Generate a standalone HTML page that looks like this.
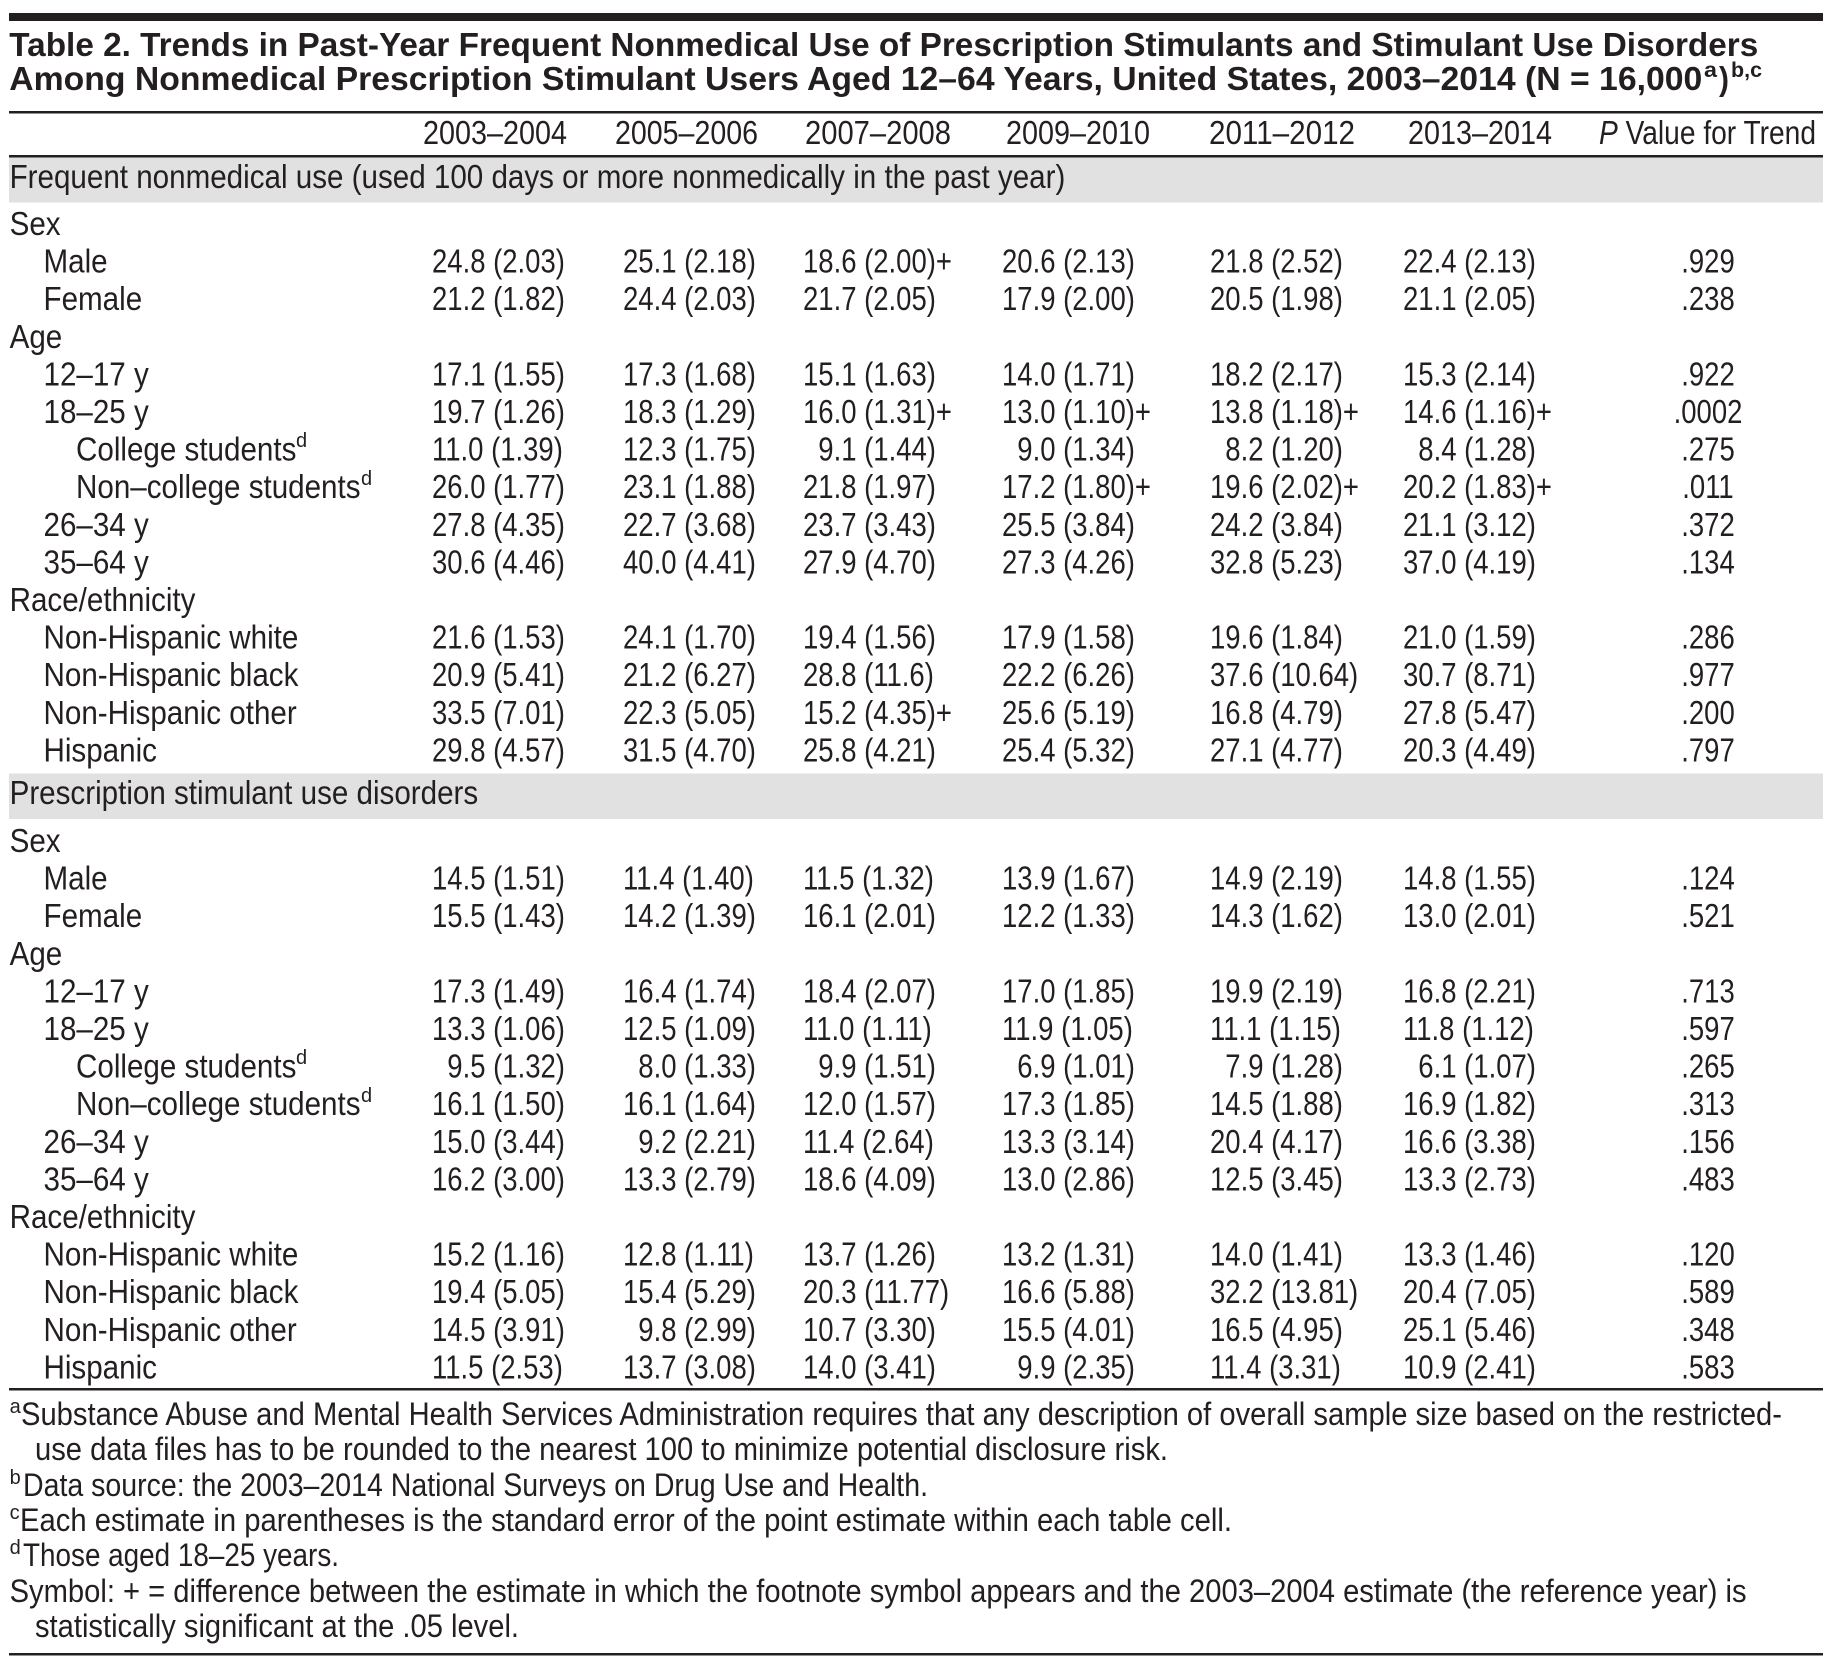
<!DOCTYPE html>
<html>
<head>
<meta charset="utf-8">
<style>
html,body{margin:0;padding:0;background:#fff;}
svg{display:block;}
text{font-family:"Liberation Sans",Arial,sans-serif;font-size:33px;fill:#231f20;}
.t{font-weight:bold;font-size:33px;}
.sup{font-size:20px;}
.tsup{font-size:21px;font-weight:bold;}
.fn{font-size:32px;}
</style>
</head>
<body>
<svg width="1842" height="1672" viewBox="0 0 1842 1672" xmlns="http://www.w3.org/2000/svg">
<rect x="0" y="0" width="1842" height="1672" fill="#fff"/>
<rect x="9" y="13" width="1814" height="8" fill="#231f20"/>
<text class="t" x="9.3" y="56" textLength="1749" lengthAdjust="spacingAndGlyphs">Table 2. Trends in Past-Year Frequent Nonmedical Use of Prescription Stimulants and Stimulant Use Disorders</text>
<text class="t" x="9.3" y="90" textLength="1693" lengthAdjust="spacingAndGlyphs">Among Nonmedical Prescription Stimulant Users Aged 12–64 Years, United States, 2003–2014 (N = 16,000</text>
<text class="tsup" x="1704" y="77" textLength="13" lengthAdjust="spacingAndGlyphs">a</text>
<text class="t" x="1719" y="90" textLength="10" lengthAdjust="spacingAndGlyphs">)</text>
<text class="tsup" x="1731" y="77" textLength="31" lengthAdjust="spacingAndGlyphs">b,c</text>
<rect x="9" y="111" width="1814" height="2.5" fill="#231f20"/>
<text x="423" y="144" textLength="144" lengthAdjust="spacingAndGlyphs">2003–2004</text>
<text x="615" y="144" textLength="143" lengthAdjust="spacingAndGlyphs">2005–2006</text>
<text x="805" y="144" textLength="146" lengthAdjust="spacingAndGlyphs">2007–2008</text>
<text x="1006" y="144" textLength="144" lengthAdjust="spacingAndGlyphs">2009–2010</text>
<text x="1209" y="144" textLength="146" lengthAdjust="spacingAndGlyphs">2011–2012</text>
<text x="1408" y="144" textLength="144" lengthAdjust="spacingAndGlyphs">2013–2014</text>
<text x="1599" y="144" textLength="217" lengthAdjust="spacingAndGlyphs"><tspan font-style="italic">P</tspan> Value for Trend</text>
<rect x="9" y="155" width="1814" height="2.5" fill="#231f20"/>
<rect x="9" y="157.5" width="1814" height="45" fill="#e1e1e1"/>
<text transform="translate(9.6,188) scale(.897,1)">Frequent nonmedical use (used 100 days or more nonmedically in the past year)</text>

<text transform="translate(9.6,235) scale(.897,1)">Sex</text>
<text transform="translate(43.5,272.6) scale(.897,1)">Male</text>
<text transform="translate(43.5,310.2) scale(.897,1)">Female</text>
<text transform="translate(9.6,347.8) scale(.897,1)">Age</text>
<text transform="translate(43.5,385.4) scale(.897,1)">12–17 y</text>
<text transform="translate(43.5,423) scale(.897,1)">18–25 y</text>
<text transform="translate(76,460.6) scale(.897,1)">College students</text>
<text class="sup" x="296" y="447">d</text>
<text transform="translate(76,498.2) scale(.897,1)">Non–college students</text>
<text class="sup" x="361" y="485">d</text>
<text transform="translate(43.5,535.8) scale(.897,1)">26–34 y</text>
<text transform="translate(43.5,573.4) scale(.897,1)">35–64 y</text>
<text transform="translate(9.6,611) scale(.897,1)">Race/ethnicity</text>
<text transform="translate(43.5,648.6) scale(.897,1)">Non-Hispanic white</text>
<text transform="translate(43.5,686.2) scale(.897,1)">Non-Hispanic black</text>
<text transform="translate(43.5,723.8) scale(.897,1)">Non-Hispanic other</text>
<text transform="translate(43.5,761.4) scale(.897,1)">Hispanic</text>

<g transform="translate(0,272.6)">
<text transform="translate(432,0) scale(.833,1)">24.8 (2.03)</text>
<text transform="translate(623,0) scale(.833,1)">25.1 (2.18)</text>
<text transform="translate(803,0) scale(.833,1)">18.6 (2.00)+</text>
<text transform="translate(1002,0) scale(.833,1)">20.6 (2.13)</text>
<text transform="translate(1210,0) scale(.833,1)">21.8 (2.52)</text>
<text transform="translate(1403,0) scale(.833,1)">22.4 (2.13)</text>
<text text-anchor="middle" transform="translate(1708,0) scale(.833,1)">.929</text>
</g>
<g transform="translate(0,310.2)">
<text transform="translate(432,0) scale(.833,1)">21.2 (1.82)</text>
<text transform="translate(623,0) scale(.833,1)">24.4 (2.03)</text>
<text transform="translate(803,0) scale(.833,1)">21.7 (2.05)</text>
<text transform="translate(1002,0) scale(.833,1)">17.9 (2.00)</text>
<text transform="translate(1210,0) scale(.833,1)">20.5 (1.98)</text>
<text transform="translate(1403,0) scale(.833,1)">21.1 (2.05)</text>
<text text-anchor="middle" transform="translate(1708,0) scale(.833,1)">.238</text>
</g>
<g transform="translate(0,385.4)">
<text transform="translate(432,0) scale(.833,1)">17.1 (1.55)</text>
<text transform="translate(623,0) scale(.833,1)">17.3 (1.68)</text>
<text transform="translate(803,0) scale(.833,1)">15.1 (1.63)</text>
<text transform="translate(1002,0) scale(.833,1)">14.0 (1.71)</text>
<text transform="translate(1210,0) scale(.833,1)">18.2 (2.17)</text>
<text transform="translate(1403,0) scale(.833,1)">15.3 (2.14)</text>
<text text-anchor="middle" transform="translate(1708,0) scale(.833,1)">.922</text>
</g>
<g transform="translate(0,423)">
<text transform="translate(432,0) scale(.833,1)">19.7 (1.26)</text>
<text transform="translate(623,0) scale(.833,1)">18.3 (1.29)</text>
<text transform="translate(803,0) scale(.833,1)">16.0 (1.31)+</text>
<text transform="translate(1002,0) scale(.833,1)">13.0 (1.10)+</text>
<text transform="translate(1210,0) scale(.833,1)">13.8 (1.18)+</text>
<text transform="translate(1403,0) scale(.833,1)">14.6 (1.16)+</text>
<text text-anchor="middle" transform="translate(1708,0) scale(.833,1)">.0002</text>
</g>
<g transform="translate(0,460.6)">
<text transform="translate(432,0) scale(.833,1)">11.0 (1.39)</text>
<text transform="translate(623,0) scale(.833,1)">12.3 (1.75)</text>
<text transform="translate(818.3,0) scale(.833,1)">9.1 (1.44)</text>
<text transform="translate(1017.3,0) scale(.833,1)">9.0 (1.34)</text>
<text transform="translate(1225.3,0) scale(.833,1)">8.2 (1.20)</text>
<text transform="translate(1418.3,0) scale(.833,1)">8.4 (1.28)</text>
<text text-anchor="middle" transform="translate(1708,0) scale(.833,1)">.275</text>
</g>
<g transform="translate(0,498.2)">
<text transform="translate(432,0) scale(.833,1)">26.0 (1.77)</text>
<text transform="translate(623,0) scale(.833,1)">23.1 (1.88)</text>
<text transform="translate(803,0) scale(.833,1)">21.8 (1.97)</text>
<text transform="translate(1002,0) scale(.833,1)">17.2 (1.80)+</text>
<text transform="translate(1210,0) scale(.833,1)">19.6 (2.02)+</text>
<text transform="translate(1403,0) scale(.833,1)">20.2 (1.83)+</text>
<text text-anchor="middle" transform="translate(1708,0) scale(.833,1)">.011</text>
</g>
<g transform="translate(0,535.8)">
<text transform="translate(432,0) scale(.833,1)">27.8 (4.35)</text>
<text transform="translate(623,0) scale(.833,1)">22.7 (3.68)</text>
<text transform="translate(803,0) scale(.833,1)">23.7 (3.43)</text>
<text transform="translate(1002,0) scale(.833,1)">25.5 (3.84)</text>
<text transform="translate(1210,0) scale(.833,1)">24.2 (3.84)</text>
<text transform="translate(1403,0) scale(.833,1)">21.1 (3.12)</text>
<text text-anchor="middle" transform="translate(1708,0) scale(.833,1)">.372</text>
</g>
<g transform="translate(0,573.4)">
<text transform="translate(432,0) scale(.833,1)">30.6 (4.46)</text>
<text transform="translate(623,0) scale(.833,1)">40.0 (4.41)</text>
<text transform="translate(803,0) scale(.833,1)">27.9 (4.70)</text>
<text transform="translate(1002,0) scale(.833,1)">27.3 (4.26)</text>
<text transform="translate(1210,0) scale(.833,1)">32.8 (5.23)</text>
<text transform="translate(1403,0) scale(.833,1)">37.0 (4.19)</text>
<text text-anchor="middle" transform="translate(1708,0) scale(.833,1)">.134</text>
</g>
<g transform="translate(0,648.6)">
<text transform="translate(432,0) scale(.833,1)">21.6 (1.53)</text>
<text transform="translate(623,0) scale(.833,1)">24.1 (1.70)</text>
<text transform="translate(803,0) scale(.833,1)">19.4 (1.56)</text>
<text transform="translate(1002,0) scale(.833,1)">17.9 (1.58)</text>
<text transform="translate(1210,0) scale(.833,1)">19.6 (1.84)</text>
<text transform="translate(1403,0) scale(.833,1)">21.0 (1.59)</text>
<text text-anchor="middle" transform="translate(1708,0) scale(.833,1)">.286</text>
</g>
<g transform="translate(0,686.2)">
<text transform="translate(432,0) scale(.833,1)">20.9 (5.41)</text>
<text transform="translate(623,0) scale(.833,1)">21.2 (6.27)</text>
<text transform="translate(803,0) scale(.833,1)">28.8 (11.6)</text>
<text transform="translate(1002,0) scale(.833,1)">22.2 (6.26)</text>
<text transform="translate(1210,0) scale(.833,1)">37.6 (10.64)</text>
<text transform="translate(1403,0) scale(.833,1)">30.7 (8.71)</text>
<text text-anchor="middle" transform="translate(1708,0) scale(.833,1)">.977</text>
</g>
<g transform="translate(0,723.8)">
<text transform="translate(432,0) scale(.833,1)">33.5 (7.01)</text>
<text transform="translate(623,0) scale(.833,1)">22.3 (5.05)</text>
<text transform="translate(803,0) scale(.833,1)">15.2 (4.35)+</text>
<text transform="translate(1002,0) scale(.833,1)">25.6 (5.19)</text>
<text transform="translate(1210,0) scale(.833,1)">16.8 (4.79)</text>
<text transform="translate(1403,0) scale(.833,1)">27.8 (5.47)</text>
<text text-anchor="middle" transform="translate(1708,0) scale(.833,1)">.200</text>
</g>
<g transform="translate(0,761.4)">
<text transform="translate(432,0) scale(.833,1)">29.8 (4.57)</text>
<text transform="translate(623,0) scale(.833,1)">31.5 (4.70)</text>
<text transform="translate(803,0) scale(.833,1)">25.8 (4.21)</text>
<text transform="translate(1002,0) scale(.833,1)">25.4 (5.32)</text>
<text transform="translate(1210,0) scale(.833,1)">27.1 (4.77)</text>
<text transform="translate(1403,0) scale(.833,1)">20.3 (4.49)</text>
<text text-anchor="middle" transform="translate(1708,0) scale(.833,1)">.797</text>
</g>

<rect x="9" y="773.5" width="1814" height="45.5" fill="#e1e1e1"/>
<text transform="translate(9.6,804) scale(.897,1)">Prescription stimulant use disorders</text>

<text transform="translate(9.6,852) scale(.897,1)">Sex</text>
<text transform="translate(43.5,889.6) scale(.897,1)">Male</text>
<text transform="translate(43.5,927.2) scale(.897,1)">Female</text>
<text transform="translate(9.6,964.8) scale(.897,1)">Age</text>
<text transform="translate(43.5,1002.4) scale(.897,1)">12–17 y</text>
<text transform="translate(43.5,1040) scale(.897,1)">18–25 y</text>
<text transform="translate(76,1077.6) scale(.897,1)">College students</text>
<text class="sup" x="296" y="1064">d</text>
<text transform="translate(76,1115.2) scale(.897,1)">Non–college students</text>
<text class="sup" x="361" y="1102">d</text>
<text transform="translate(43.5,1152.8) scale(.897,1)">26–34 y</text>
<text transform="translate(43.5,1190.4) scale(.897,1)">35–64 y</text>
<text transform="translate(9.6,1228) scale(.897,1)">Race/ethnicity</text>
<text transform="translate(43.5,1265.6) scale(.897,1)">Non-Hispanic white</text>
<text transform="translate(43.5,1303.2) scale(.897,1)">Non-Hispanic black</text>
<text transform="translate(43.5,1340.8) scale(.897,1)">Non-Hispanic other</text>
<text transform="translate(43.5,1378.4) scale(.897,1)">Hispanic</text>

<g transform="translate(0,889.6)">
<text transform="translate(432,0) scale(.833,1)">14.5 (1.51)</text>
<text transform="translate(623,0) scale(.833,1)">11.4 (1.40)</text>
<text transform="translate(803,0) scale(.833,1)">11.5 (1.32)</text>
<text transform="translate(1002,0) scale(.833,1)">13.9 (1.67)</text>
<text transform="translate(1210,0) scale(.833,1)">14.9 (2.19)</text>
<text transform="translate(1403,0) scale(.833,1)">14.8 (1.55)</text>
<text text-anchor="middle" transform="translate(1708,0) scale(.833,1)">.124</text>
</g>
<g transform="translate(0,927.2)">
<text transform="translate(432,0) scale(.833,1)">15.5 (1.43)</text>
<text transform="translate(623,0) scale(.833,1)">14.2 (1.39)</text>
<text transform="translate(803,0) scale(.833,1)">16.1 (2.01)</text>
<text transform="translate(1002,0) scale(.833,1)">12.2 (1.33)</text>
<text transform="translate(1210,0) scale(.833,1)">14.3 (1.62)</text>
<text transform="translate(1403,0) scale(.833,1)">13.0 (2.01)</text>
<text text-anchor="middle" transform="translate(1708,0) scale(.833,1)">.521</text>
</g>
<g transform="translate(0,1002.4)">
<text transform="translate(432,0) scale(.833,1)">17.3 (1.49)</text>
<text transform="translate(623,0) scale(.833,1)">16.4 (1.74)</text>
<text transform="translate(803,0) scale(.833,1)">18.4 (2.07)</text>
<text transform="translate(1002,0) scale(.833,1)">17.0 (1.85)</text>
<text transform="translate(1210,0) scale(.833,1)">19.9 (2.19)</text>
<text transform="translate(1403,0) scale(.833,1)">16.8 (2.21)</text>
<text text-anchor="middle" transform="translate(1708,0) scale(.833,1)">.713</text>
</g>
<g transform="translate(0,1040)">
<text transform="translate(432,0) scale(.833,1)">13.3 (1.06)</text>
<text transform="translate(623,0) scale(.833,1)">12.5 (1.09)</text>
<text transform="translate(803,0) scale(.833,1)">11.0 (1.11)</text>
<text transform="translate(1002,0) scale(.833,1)">11.9 (1.05)</text>
<text transform="translate(1210,0) scale(.833,1)">11.1 (1.15)</text>
<text transform="translate(1403,0) scale(.833,1)">11.8 (1.12)</text>
<text text-anchor="middle" transform="translate(1708,0) scale(.833,1)">.597</text>
</g>
<g transform="translate(0,1077.6)">
<text transform="translate(447.3,0) scale(.833,1)">9.5 (1.32)</text>
<text transform="translate(638.3,0) scale(.833,1)">8.0 (1.33)</text>
<text transform="translate(818.3,0) scale(.833,1)">9.9 (1.51)</text>
<text transform="translate(1017.3,0) scale(.833,1)">6.9 (1.01)</text>
<text transform="translate(1225.3,0) scale(.833,1)">7.9 (1.28)</text>
<text transform="translate(1418.3,0) scale(.833,1)">6.1 (1.07)</text>
<text text-anchor="middle" transform="translate(1708,0) scale(.833,1)">.265</text>
</g>
<g transform="translate(0,1115.2)">
<text transform="translate(432,0) scale(.833,1)">16.1 (1.50)</text>
<text transform="translate(623,0) scale(.833,1)">16.1 (1.64)</text>
<text transform="translate(803,0) scale(.833,1)">12.0 (1.57)</text>
<text transform="translate(1002,0) scale(.833,1)">17.3 (1.85)</text>
<text transform="translate(1210,0) scale(.833,1)">14.5 (1.88)</text>
<text transform="translate(1403,0) scale(.833,1)">16.9 (1.82)</text>
<text text-anchor="middle" transform="translate(1708,0) scale(.833,1)">.313</text>
</g>
<g transform="translate(0,1152.8)">
<text transform="translate(432,0) scale(.833,1)">15.0 (3.44)</text>
<text transform="translate(638.3,0) scale(.833,1)">9.2 (2.21)</text>
<text transform="translate(803,0) scale(.833,1)">11.4 (2.64)</text>
<text transform="translate(1002,0) scale(.833,1)">13.3 (3.14)</text>
<text transform="translate(1210,0) scale(.833,1)">20.4 (4.17)</text>
<text transform="translate(1403,0) scale(.833,1)">16.6 (3.38)</text>
<text text-anchor="middle" transform="translate(1708,0) scale(.833,1)">.156</text>
</g>
<g transform="translate(0,1190.4)">
<text transform="translate(432,0) scale(.833,1)">16.2 (3.00)</text>
<text transform="translate(623,0) scale(.833,1)">13.3 (2.79)</text>
<text transform="translate(803,0) scale(.833,1)">18.6 (4.09)</text>
<text transform="translate(1002,0) scale(.833,1)">13.0 (2.86)</text>
<text transform="translate(1210,0) scale(.833,1)">12.5 (3.45)</text>
<text transform="translate(1403,0) scale(.833,1)">13.3 (2.73)</text>
<text text-anchor="middle" transform="translate(1708,0) scale(.833,1)">.483</text>
</g>
<g transform="translate(0,1265.6)">
<text transform="translate(432,0) scale(.833,1)">15.2 (1.16)</text>
<text transform="translate(623,0) scale(.833,1)">12.8 (1.11)</text>
<text transform="translate(803,0) scale(.833,1)">13.7 (1.26)</text>
<text transform="translate(1002,0) scale(.833,1)">13.2 (1.31)</text>
<text transform="translate(1210,0) scale(.833,1)">14.0 (1.41)</text>
<text transform="translate(1403,0) scale(.833,1)">13.3 (1.46)</text>
<text text-anchor="middle" transform="translate(1708,0) scale(.833,1)">.120</text>
</g>
<g transform="translate(0,1303.2)">
<text transform="translate(432,0) scale(.833,1)">19.4 (5.05)</text>
<text transform="translate(623,0) scale(.833,1)">15.4 (5.29)</text>
<text transform="translate(803,0) scale(.833,1)">20.3 (11.77)</text>
<text transform="translate(1002,0) scale(.833,1)">16.6 (5.88)</text>
<text transform="translate(1210,0) scale(.833,1)">32.2 (13.81)</text>
<text transform="translate(1403,0) scale(.833,1)">20.4 (7.05)</text>
<text text-anchor="middle" transform="translate(1708,0) scale(.833,1)">.589</text>
</g>
<g transform="translate(0,1340.8)">
<text transform="translate(432,0) scale(.833,1)">14.5 (3.91)</text>
<text transform="translate(638.3,0) scale(.833,1)">9.8 (2.99)</text>
<text transform="translate(803,0) scale(.833,1)">10.7 (3.30)</text>
<text transform="translate(1002,0) scale(.833,1)">15.5 (4.01)</text>
<text transform="translate(1210,0) scale(.833,1)">16.5 (4.95)</text>
<text transform="translate(1403,0) scale(.833,1)">25.1 (5.46)</text>
<text text-anchor="middle" transform="translate(1708,0) scale(.833,1)">.348</text>
</g>
<g transform="translate(0,1378.4)">
<text transform="translate(432,0) scale(.833,1)">11.5 (2.53)</text>
<text transform="translate(623,0) scale(.833,1)">13.7 (3.08)</text>
<text transform="translate(803,0) scale(.833,1)">14.0 (3.41)</text>
<text transform="translate(1017.3,0) scale(.833,1)">9.9 (2.35)</text>
<text transform="translate(1210,0) scale(.833,1)">11.4 (3.31)</text>
<text transform="translate(1403,0) scale(.833,1)">10.9 (2.41)</text>
<text text-anchor="middle" transform="translate(1708,0) scale(.833,1)">.583</text>
</g>

<rect x="9" y="1388" width="1814" height="2.5" fill="#231f20"/>

<text class="sup" x="9.6" y="1413">a</text>
<text class="fn" x="21" y="1425" textLength="1761" lengthAdjust="spacingAndGlyphs">Substance Abuse and Mental Health Services Administration requires that any description of overall sample size based on the restricted-</text>
<text class="fn" x="35" y="1460" textLength="1133" lengthAdjust="spacingAndGlyphs">use data files has to be rounded to the nearest 100 to minimize potential disclosure risk.</text>
<text class="sup" x="9.6" y="1484">b</text>
<text class="fn" x="23" y="1496" textLength="905" lengthAdjust="spacingAndGlyphs">Data source: the 2003–2014 National Surveys on Drug Use and Health.</text>
<text class="sup" x="9.6" y="1519">c</text>
<text class="fn" x="20" y="1531" textLength="1212" lengthAdjust="spacingAndGlyphs">Each estimate in parentheses is the standard error of the point estimate within each table cell.</text>
<text class="sup" x="9.6" y="1554">d</text>
<text class="fn" x="23" y="1566" textLength="316" lengthAdjust="spacingAndGlyphs">Those aged 18–25 years.</text>
<text class="fn" x="9.6" y="1602" textLength="1737" lengthAdjust="spacingAndGlyphs">Symbol: + = difference between the estimate in which the footnote symbol appears and the 2003–2004 estimate (the reference year) is</text>
<text class="fn" x="35" y="1637" textLength="484" lengthAdjust="spacingAndGlyphs">statistically significant at the .05 level.</text>

<rect x="9" y="1653" width="1814" height="2.5" fill="#231f20"/>
</svg>
</body>
</html>
